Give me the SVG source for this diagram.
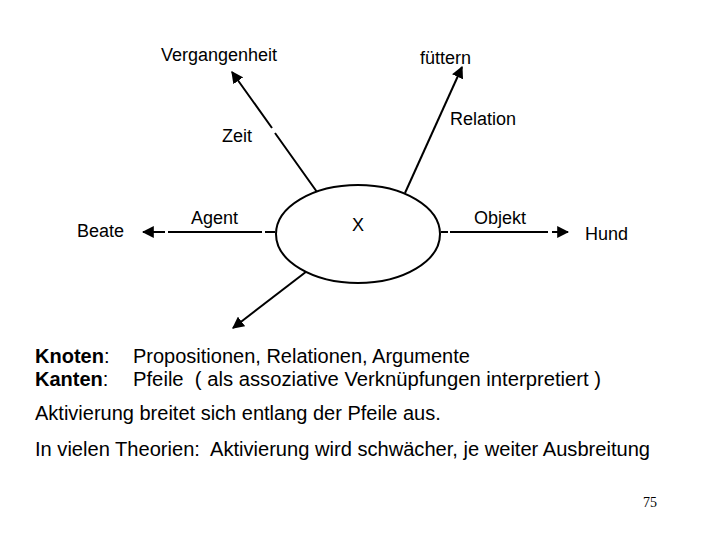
<svg xmlns="http://www.w3.org/2000/svg" width="720" height="540" viewBox="0 0 720 540">
<style>
text{font-family:"Liberation Sans",Arial,sans-serif;font-size:18px;fill:#000;white-space:pre}
.body{font-size:20px}
.b{font-weight:bold}
.ln{stroke:#000;stroke-width:2;fill:none}
</style>
<defs>
<marker id="ah" viewBox="0 0 10 10" refX="9" refY="5" markerWidth="6" markerHeight="6" orient="auto" markerUnits="strokeWidth">
<path d="M0,0 L10,5 L0,10 z" fill="#000"/>
</marker>
</defs>
<rect width="720" height="540" fill="#fff"/>
<g id="connectors">
<path class="ln" d="M275,232 H265 M262,232 H168 M165,232 H143" marker-end="url(#ah)"/>
<path class="ln" d="M441,232 H448 M450,232 H548 M552,232 H568" marker-end="url(#ah)"/>
<path class="ln" d="M317,192 L275,133 M272,128 L232,72" marker-end="url(#ah)"/>
<path class="ln" d="M405,193 L462,67" marker-end="url(#ah)"/>
<path class="ln" d="M311,268 L233,328" marker-end="url(#ah)"/>
</g>
<g id="node-x">
<ellipse cx="358" cy="234" rx="82" ry="49" fill="#fff" stroke="#000" stroke-width="2"/>
<text x="358" y="231" text-anchor="middle">X</text>
</g>
<g id="node-beate"><text x="77" y="237">Beate</text></g>
<g id="node-hund"><text x="585" y="240">Hund</text></g>
<g id="node-vergangenheit"><text x="161" y="61">Vergangenheit</text></g>
<g id="node-fuettern"><text x="420" y="64">füttern</text></g>
<g id="labels">
<text x="191" y="224">Agent</text>
<text x="474" y="224">Objekt</text>
<text x="222" y="142">Zeit</text>
<text x="450" y="125">Relation</text>
</g>
<g id="text-block">
<text class="body" x="35" y="363"><tspan class="b">Knoten</tspan>:</text>
<text class="body" x="133" y="363">Propositionen, Relationen, Argumente</text>
<text class="body" x="35" y="386"><tspan class="b">Kanten</tspan>:</text>
<text class="body" x="133" y="386" textLength="468" lengthAdjust="spacingAndGlyphs">Pfeile  ( als assoziative Verknüpfungen interpretiert )</text>
<text class="body" x="35" y="420">Aktivierung breitet sich entlang der Pfeile aus.</text>
<text class="body" x="35" y="456" textLength="615" lengthAdjust="spacingAndGlyphs">In vielen Theorien:  Aktivierung wird schwächer, je weiter Ausbreitung</text>
<text x="643" y="507" style="font-family:'Liberation Serif','Times New Roman',serif;font-size:14px">75</text>
</g>
</svg>
